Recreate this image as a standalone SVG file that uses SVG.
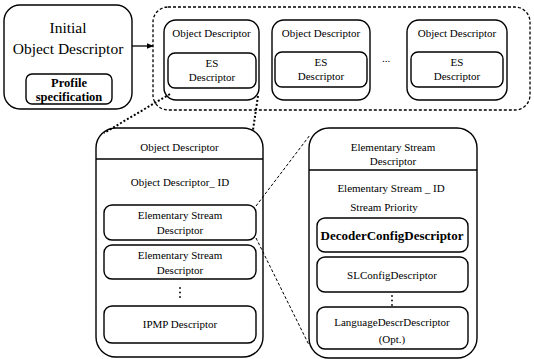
<svg xmlns="http://www.w3.org/2000/svg" width="534" height="359" viewBox="0 0 534 359">
  <defs>
    <marker id="arrow" viewBox="0 0 10 10" refX="9" refY="5" markerWidth="7" markerHeight="7" orient="auto" markerUnits="userSpaceOnUse">
      <path d="M0,1 L10,5 L0,9 Z" fill="#000"/>
    </marker>
    <!-- vertical ellipsis used inside the descriptor lists -->
    <g id="vdots" fill="#000">
      <circle cx="0" cy="0" r="0.9"/>
      <circle cx="0" cy="4.5" r="0.9"/>
      <circle cx="0" cy="9" r="0.9"/>
    </g>
  </defs>

  <rect width="534" height="359" fill="#fff"/>

  <!-- Initial Object Descriptor -->
  <g id="initial-od">
    <g fill="#fff" stroke="#000" stroke-width="1.4">
      <rect x="4" y="5" width="128" height="104" rx="16"/>
      <rect x="26" y="74" width="86" height="30" rx="6"/>
    </g>
    <g text-anchor="middle" fill="#000" font-size="15.5">
      <text font-family="Liberation Serif" x="68" y="33">Initial</text>
      <text font-family="Liberation Serif" x="68" y="54">Object Descriptor</text>
    </g>
    <g text-anchor="middle" fill="#000" font-size="12.5" font-weight="bold">
      <text font-family="Liberation Serif" x="69" y="87">Profile</text>
      <text font-family="Liberation Serif" x="69" y="101">specification</text>
    </g>
  </g>

  <!-- Set of object descriptors -->
  <g id="od-set">
    <rect x="153" y="7" width="377" height="103" rx="15" fill="none" stroke="#000" stroke-width="1.3" stroke-dasharray="3 2"/>
  </g>

  <g id="od-1">
    <g fill="#fff" stroke="#000" stroke-width="1.4">
      <rect x="164" y="20" width="95" height="80" rx="12"/>
      <rect x="168" y="53" width="88" height="35" rx="7"/>
    </g>
    <g text-anchor="middle" fill="#000" font-size="11">
      <text font-family="Liberation Serif" x="211.5" y="37">Object Descriptor</text>
      <text font-family="Liberation Serif" x="212" y="67">ES</text>
      <text font-family="Liberation Serif" x="212" y="81">Descriptor</text>
    </g>
  </g>

  <g id="od-2">
    <g fill="#fff" stroke="#000" stroke-width="1.4">
      <rect x="272" y="20" width="98" height="80" rx="12"/>
      <rect x="275" y="52" width="92" height="35" rx="7"/>
    </g>
    <g text-anchor="middle" fill="#000" font-size="11">
      <text font-family="Liberation Serif" x="321" y="37">Object Descriptor</text>
      <text font-family="Liberation Serif" x="321" y="66">ES</text>
      <text font-family="Liberation Serif" x="321" y="80">Descriptor</text>
    </g>
  </g>

  <text font-family="Liberation Serif" font-size="11" text-anchor="middle" fill="#000" x="386" y="62">...</text>

  <g id="od-n">
    <g fill="#fff" stroke="#000" stroke-width="1.4">
      <rect x="407" y="20" width="100" height="80" rx="12"/>
      <rect x="411" y="52" width="92" height="35" rx="7"/>
    </g>
    <g text-anchor="middle" fill="#000" font-size="11">
      <text font-family="Liberation Serif" x="457" y="37">Object Descriptor</text>
      <text font-family="Liberation Serif" x="457" y="66">ES</text>
      <text font-family="Liberation Serif" x="457" y="80">Descriptor</text>
    </g>
  </g>

  <!-- Object Descriptor detail -->
  <g id="od-detail">
    <g fill="#fff" stroke="#000" stroke-width="1.4">
      <rect x="96" y="128" width="167" height="229" rx="20"/>
      <line x1="96" y1="159" x2="263" y2="159"/>
      <rect x="104" y="205" width="152" height="35" rx="8"/>
      <rect x="104" y="245" width="152" height="34" rx="8"/>
      <rect x="104" y="306" width="152" height="37" rx="8"/>
    </g>
    <use href="#vdots" x="180" y="288"/>
    <g text-anchor="middle" fill="#000" font-size="11">
      <text font-family="Liberation Serif" x="179.5" y="151">Object Descriptor</text>
      <text font-family="Liberation Serif" x="180" y="186">Object Descriptor_ ID</text>
      <text font-family="Liberation Serif" x="180" y="219">Elementary Stream</text>
      <text font-family="Liberation Serif" x="180" y="234">Descriptor</text>
      <text font-family="Liberation Serif" x="180" y="259">Elementary Stream</text>
      <text font-family="Liberation Serif" x="180" y="274">Descriptor</text>
      <text font-family="Liberation Serif" x="180" y="328">IPMP Descriptor</text>
    </g>
  </g>

  <!-- Elementary Stream Descriptor detail -->
  <g id="es-detail">
    <g fill="#fff" stroke="#000" stroke-width="1.4">
      <rect x="309" y="128" width="168" height="230" rx="20"/>
      <line x1="309" y1="170" x2="477" y2="170"/>
      <rect x="317" y="218" width="151" height="34" rx="8"/>
      <rect x="317" y="257" width="151" height="35" rx="8"/>
      <rect x="317" y="307" width="151" height="42" rx="8"/>
    </g>
    <use href="#vdots" x="392" y="296"/>
    <g text-anchor="middle" fill="#000" font-size="11">
      <text font-family="Liberation Serif" x="393" y="151">Elementary Stream</text>
      <text font-family="Liberation Serif" x="393" y="165">Descriptor</text>
      <text font-family="Liberation Serif" x="391" y="192">Elementary Stream _ ID</text>
      <text font-family="Liberation Serif" x="384" y="211">Stream Priority</text>
      <text font-family="Liberation Serif" x="392" y="240" font-size="13" font-weight="bold">DecoderConfigDescriptor</text>
      <text font-family="Liberation Serif" x="392" y="279">SLConfigDescriptor</text>
      <text font-family="Liberation Serif" x="392" y="326">LanguageDescrDescriptor</text>
      <text font-family="Liberation Serif" x="392" y="343">(Opt.)</text>
    </g>
  </g>

  <!-- Connectors -->
  <g id="connectors" fill="none" stroke="#000">
    <line x1="132" y1="46" x2="153" y2="46" stroke-width="1.3" marker-end="url(#arrow)"/>
    <g stroke-width="2" stroke-dasharray="2 2">
      <line x1="170" y1="94" x2="104" y2="133"/>
      <line x1="258" y1="96" x2="253" y2="130"/>
    </g>
    <g stroke-width="1" stroke-dasharray="3 2">
      <line x1="256" y1="206" x2="310" y2="135"/>
      <line x1="256" y1="238" x2="309" y2="345"/>
    </g>
  </g>
</svg>
